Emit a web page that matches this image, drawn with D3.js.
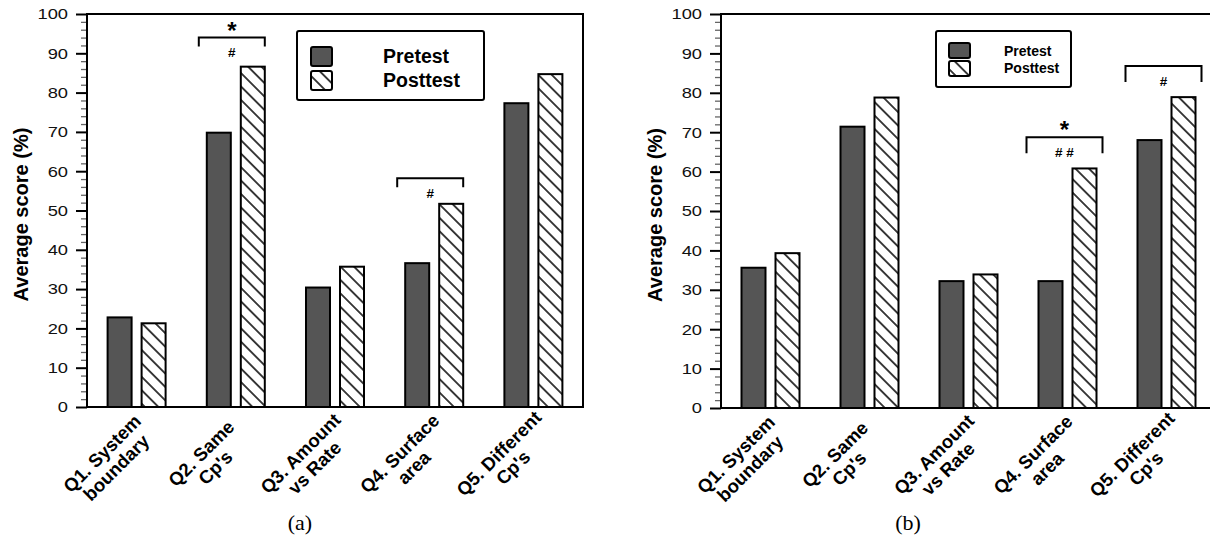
<!DOCTYPE html>
<html>
<head>
<meta charset="utf-8">
<script src="https://cdn.jsdelivr.net/npm/d3@7"></script>
<style>
  body { margin: 0; background: #fff; }
  svg { display: block; font-family: "Liberation Sans", Arial, sans-serif; }
</style>
</head>
<body>
<svg id="chart" width="1210" height="539"></svg>
<script>
// ---- data ----
const categories = ['Q1', 'Q2', 'Q3', 'Q4', 'Q5']
const categoryLabels = [
	['Q1. System', 'boundary'],
	['Q2. Same', "Cp's"],
	['Q3. Amount', 'vs Rate'],
	['Q4. Surface', 'area'],
	['Q5. Different', "Cp's"]
]
const series = ['Pretest', 'Posttest']
const yTickValues = [0, 10, 20, 30, 40, 50, 60, 70, 80, 90, 100]

const pretestA = [22.8, 69.8, 30.4, 36.6, 77.3]
const posttestA = [21.3, 86.6, 35.7, 51.7, 84.7]
const pretestB = [35.6, 71.4, 32.2, 32.2, 68.0]
const posttestB = [39.3, 78.8, 33.9, 60.8, 78.9]

// significance brackets (level in % units)
const bracketsA = [
	{ cat: 'Q2', level: 94.0, above: '*', below: '#' },
	{ cat: 'Q4', level: 58.2, above: '', below: '#' }
]
const bracketsB = [
	{ cat: 'Q4', level: 68.7, above: '*', below: '# #' },
	{ cat: 'Q5', level: 86.8, above: '', below: '#' }
]

const svg = d3.select('#chart')
const preColor = '#555555'

// hatch used for the posttest bars
const defs = svg.append('defs')
const hatch = defs.append('pattern')
	.attr('id', 'hatch')
	.attr('patternUnits', 'userSpaceOnUse')
	.attr('width', 9.5)
	.attr('height', 9.5)
	.attr('patternTransform', 'rotate(-45)')
hatch.append('rect').attr('width', 9.5).attr('height', 9.5).attr('fill', '#fff')
hatch.append('line')
	.attr('x1', 4.75).attr('y1', -1).attr('x2', 4.75).attr('y2', 10.5)
	.attr('stroke', '#000').attr('stroke-width', 1.5)

function drawPanel(p) {
	const g = svg.append('g')

	const x = d3.scaleBand().domain(categories).range([p.left, p.right])
	const y = d3.scaleLinear().domain([0, 100]).range([p.bottom, p.top])
	// two bars inside each category band, 24px wide with a 10px gap
	const inner = d3.scaleBand().domain(series).range([-29, 29]).paddingInner(0.294)
	const cx = c => x(c) + x.bandwidth() / 2

	const rows = categories.map((c, i) => ({ cat: c, Pretest: p.pre[i], Posttest: p.post[i] }))

	// bars
	series.forEach(s => {
		g.selectAll('rect.' + s)
			.data(rows)
			.enter()
			.append('rect')
			.attr('class', s)
			.attr('x', d => cx(d.cat) + inner(s))
			.attr('y', d => y(d[s]))
			.attr('width', inner.bandwidth())
			.attr('height', d => y(0) - y(d[s]))
			.attr('fill', s === 'Pretest' ? preColor : 'url(#hatch)')
			.attr('stroke', '#000')
			.attr('stroke-width', 2)
	})

	// minor ticks every 2
	const minorAxis = d3.axisLeft(y)
		.tickValues(d3.range(0, 101, 2).filter(v => v % 10 !== 0))
		.tickSize(6)
		.tickFormat('')
	const minorG = g.append('g').attr('transform', `translate(${p.left},0)`).call(minorAxis)
	minorG.select('.domain').remove()
	minorG.selectAll('line').attr('stroke', '#666').attr('stroke-width', 1.3)

	// major ticks + labels
	const majorAxis = d3.axisLeft(y).tickValues(yTickValues).tickSize(11).tickPadding(8)
	const majorG = g.append('g').attr('transform', `translate(${p.left},0)`).call(majorAxis)
	majorG.select('.domain').remove()
	majorG.selectAll('line').attr('stroke', '#000').attr('stroke-width', 2)
	majorG.selectAll('text')
		.attr('font-family', '"Liberation Sans", Arial, sans-serif')
		.attr('font-size', '15px')
		.attr('fill', '#111')
		.attr('transform', 'scale(1.22,1)')
		.attr('x', -19 / 1.22)

	// frame
	g.append('rect')
		.attr('x', p.left).attr('y', p.top)
		.attr('width', p.right - p.left).attr('height', p.bottom - p.top)
		.attr('fill', 'none').attr('stroke', '#000').attr('stroke-width', 2)

	// y title
	g.append('text')
		.attr('transform', `translate(${p.left - 59},${(p.top + p.bottom) / 2 + 4}) rotate(-90)`)
		.attr('text-anchor', 'middle')
		.attr('font-size', '20px')
		.attr('font-weight', 'bold')
		.text('Average score (%)')

	// category labels, rotated, two centred lines
	categories.forEach((c, i) => {
		const t = g.append('text')
			.attr('transform', `translate(${cx(c) - 30},${p.bottom + 51}) rotate(-45)`)
			.attr('text-anchor', 'middle')
			.attr('font-size', '18.5px')
			.attr('font-weight', 'bold')
		categoryLabels[i].forEach((line, k) => {
			t.append('tspan').attr('x', 0).attr('y', k * 20).text(line)
		})
	})

	// brackets
	p.brackets.forEach(b => {
		const x1 = cx(b.cat) + p.bracketL
		const x2 = cx(b.cat) + p.bracketR
		const yb = y(b.level)
		g.append('path')
			.attr('d', `M${x1},${yb + p.leg}V${yb}H${x2}V${yb + p.leg}`)
			.attr('fill', 'none').attr('stroke', '#000').attr('stroke-width', 2)
		const mid = (x1 + x2) / 2
		if (b.above) {
			g.append('text')
				.attr('x', mid).attr('y', yb + 1)
				.attr('text-anchor', 'middle')
				.attr('font-size', '24px').attr('font-weight', 'bold')
				.text(b.above)
		}
		g.append('text')
			.attr('x', mid).attr('y', yb + 19.5)
			.attr('text-anchor', 'middle')
			.attr('font-size', '13.5px').attr('font-weight', 'bold')
			.attr('xml:space', 'preserve')
			.text(b.below)
	})

	// legend
	const L = p.legend
	g.append('rect')
		.attr('x', L.x).attr('y', L.y).attr('width', L.w).attr('height', L.h)
		.attr('rx', 2).attr('fill', '#fff').attr('stroke', '#000').attr('stroke-width', 2)
	series.forEach((s, k) => {
		g.append('rect')
			.attr('x', L.sx).attr('y', L.sy[k])
			.attr('width', L.sw).attr('height', L.sh)
			.attr('rx', 2)
			.attr('fill', s === 'Pretest' ? preColor : 'url(#hatch)')
			.attr('stroke', '#000').attr('stroke-width', 2)
		g.append('text')
			.attr('x', L.tx).attr('y', L.ty[k])
			.attr('font-size', L.fs).attr('font-weight', 'bold')
			.text(s)
	})

	// panel caption
	g.append('text')
		.attr('x', p.capX).attr('y', 530)
		.attr('text-anchor', 'middle')
		.attr('font-family', '"Liberation Serif", "Times New Roman", serif')
		.attr('font-size', '22px')
		.text(p.caption)
}

drawPanel({
	left: 87, right: 583, top: 14, bottom: 407,
	pre: pretestA, post: posttestA, brackets: bracketsA,
	bracketL: -37, bracketR: 29, leg: 9,
	legend: { x: 297, y: 31, w: 187, h: 69, sx: 311, sy: [47, 71], sw: 21, sh: 19, tx: 383, ty: [63, 87], fs: '19.5px' },
	caption: '(a)', capX: 300
})

drawPanel({
	left: 721, right: 1216, top: 14, bottom: 408,
	pre: pretestB, post: posttestB, brackets: bracketsB,
	bracketL: -41, bracketR: 35, leg: 16,
	legend: { x: 936, y: 31, w: 135, h: 56, sx: 949, sy: [43, 61], sw: 21, sh: 15, tx: 1004, ty: [56, 73], fs: '14px' },
	caption: '(b)', capX: 908
})
</script>
</body>
</html>
